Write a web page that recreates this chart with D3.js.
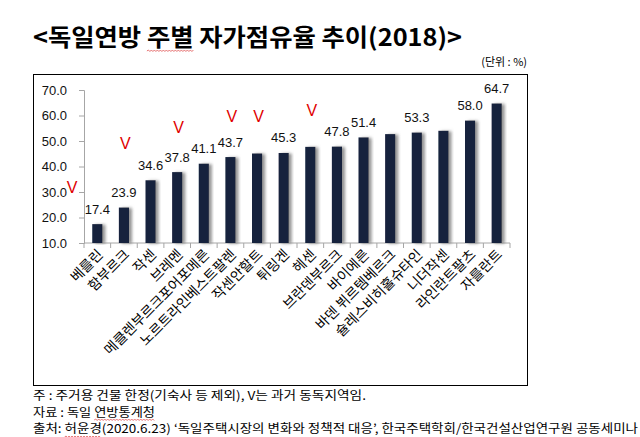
<!DOCTYPE html>
<html><head><meta charset="utf-8">
<script src="https://cdn.jsdelivr.net/npm/d3@7"></script>
<style>
html,body{margin:0;padding:0;background:#fff;}
svg{display:block;}
</style></head>
<body>
<svg id="chart" width="640" height="437"></svg>
<script>
// ---- data ----
const categories = ["베를린","함부르크","작센","브레멘","메클렌부르크포어포메른","노르트라인베스트팔렌","작센안할트","튀링겐","헤센","브란덴부르크","바이에른","바덴 뷔르템베르크","슐레스비히홀슈타인","니더작센","라인란트팔츠","자를란트"];
const values = [17.4,23.9,34.6,37.8,41.1,43.7,45.1,45.3,47.7,47.8,51.4,52.7,53.3,54.0,58.0,64.7];
const valueLabels = ["17.4","23.9","34.6","37.8","41.1","43.7","","45.3","","47.8","51.4","","53.3","","58.0","64.7"];
const formerEast = [true,false,true,false,true,false,true,true,false,true,false,false,false,false,false,false];
const yTicks = [10,20,30,40,50,60,70];
const titleText = "<독일연방 주별 자가점유율 추이(2018)>";
const unitText = "(단위 : %)";
const noteLines = [
  "주 : 주거용 건물 한정(기숙사 등 제외), V는 과거 동독지역임.",
  "자료 : 독일 연방통계청",
  "출처: 허윤경(2020.6.23) ‘독일주택시장의 변화와 정책적 대응’, 한국주택학회/한국건설산업연구원 공동세미나"
];

// ---- layout ----
const svg = d3.select("#chart");
const KR = "'Noto Sans CJK KR','Noto Sans',sans-serif";
const LAT = "'Liberation Sans',Arial,sans-serif";

const x = d3.scaleBand().domain(categories).range([84, 510]).paddingInner(0.62).paddingOuter(0.31);
const y = d3.scaleLinear().domain([10, 70]).range([243, 90]);
const step = x.step();
const bw = x.bandwidth();

// defs
const defs = svg.append("defs");
const f = defs.append("filter").attr("id","shadow").attr("x","-50%").attr("y","-10%").attr("width","200%").attr("height","120%");
f.append("feDropShadow").attr("dx",3).attr("dy",0.5).attr("stdDeviation",1.5).attr("flood-color","#6f6f6f").attr("flood-opacity",0.75);

// frame
svg.append("rect").attr("x",33.5).attr("y",74.5).attr("width",494).attr("height",311)
  .attr("fill","none").attr("stroke","#000").attr("stroke-width",1);

// title
const title = svg.append("text").attr("x",33).attr("y",46)
  .attr("font-family",KR).attr("font-weight","bold").attr("font-size",24).attr("fill","#000")
  .attr("textLength",429).attr("lengthAdjust","spacingAndGlyphs").text(titleText);

svg.append("text").attr("x",527).attr("y",66).attr("text-anchor","end")
  .attr("font-family",KR).attr("font-size",11).attr("fill","#000").text(unitText);

// y axis
const yAxis = svg.append("g").attr("transform","translate(84,0)")
  .call(d3.axisLeft(y).tickValues(yTicks).tickSize(5).tickPadding(12).tickFormat(d => d.toFixed(1)));
yAxis.select(".domain").attr("stroke","#a6a6a6");
yAxis.selectAll(".tick line").attr("stroke","#a6a6a6");
yAxis.selectAll(".tick text").attr("font-family",LAT).attr("font-size",13).attr("fill","#111");

// x axis
const xAxisG = svg.append("g").attr("transform","translate(0,243)");
xAxisG.append("line").attr("x1",84).attr("x2",510).attr("y1",0).attr("y2",0).attr("stroke","#a6a6a6");
const bounds = categories.map(c => x(c) - (step - bw) / 2).concat([x(categories[categories.length-1]) + bw + (step - bw)/2]);
xAxisG.selectAll("line.tk").data(bounds).join("line").attr("class","tk")
  .attr("x1",d=>d).attr("x2",d=>d).attr("y1",0).attr("y2",5).attr("stroke","#a6a6a6");

// bars
const data = categories.map((c,i)=>({c, v:values[i], lab:valueLabels[i], east:formerEast[i]}));
svg.append("g").selectAll("rect").data(data).join("rect")
  .attr("x",d=>x(d.c)).attr("y",d=>y(d.v)).attr("width",bw).attr("height",d=>y(10)-y(d.v))
  .attr("fill","#13203c").attr("filter","url(#shadow)");

// value labels
svg.append("g").selectAll("text").data(data.filter(d=>d.lab)).join("text")
  .attr("x",d=>x(d.c)+bw/2).attr("y",d=>y(d.v)-10.5).attr("text-anchor","middle")
  .attr("font-family",LAT).attr("font-size",13).attr("fill","#111").text(d=>d.lab);

// V marks (as placed in the original: one column to the left of each former-East state)
svg.append("g").selectAll("text").data(data.filter(d=>d.east)).join("text")
  .attr("x",d=>x(d.c)+bw/2-step+1.5).attr("y",d=>y(d.v)-37+6).attr("text-anchor","middle")
  .attr("font-family",LAT).attr("font-size",16).attr("fill","#e00000").text("V");

// category labels
svg.append("g").selectAll("text").data(categories).join("text")
  .attr("transform",c=>`translate(${x(c)+bw/2+3},252) rotate(-45)`)
  .attr("text-anchor","end").attr("dy","0.35em")
  .attr("font-family",KR).attr("font-size",14).attr("fill","#000").text(c=>c);

// notes
const noteWidths = [333,122,605];
const notes = svg.append("g");
const noteEls = noteLines.map((t,i)=> notes.append("text").attr("x",33).attr("y",400+i*16.5)
  .attr("font-family",KR).attr("font-size",12).attr("fill","#000")
  .attr("textLength",noteWidths[i]).attr("lengthAdjust","spacingAndGlyphs").text(t));

// red wavy spell-check underlines
function wavy(el, from, to, yy){
  const node = el.node();
  const x0 = node.getStartPositionOfChar(from).x;
  const x1 = node.getEndPositionOfChar(to).x;
  let p = `M${x0},${yy}`;
  let up = true;
  for(let xx = x0 + 1.5; xx <= x1; xx += 1.5){ p += `L${xx},${yy + (up ? -1 : 0.5)}`; up = !up; }
  svg.append("path").attr("d",p).attr("fill","none").attr("stroke","#e05050").attr("stroke-width",0.8);
}
wavy(title, 6, 7, 51);
wavy(noteEls[1], 8, 12, 420);
wavy(noteEls[2], 4, 6, 437);
</script>
</body></html>
